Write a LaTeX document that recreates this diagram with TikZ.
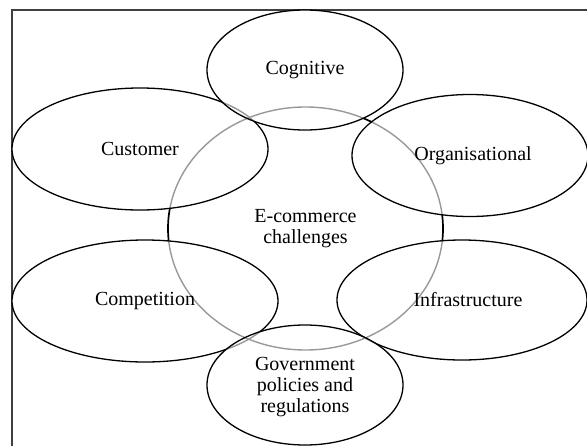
\documentclass[tikz,border=0pt]{standalone}
\usepackage{fontspec}
\setmainfont{Liberation Serif}
\usetikzlibrary{shapes.geometric}
\begin{document}
\begin{tikzpicture}[x=1pt,y=-1pt,
  txt/.style={inner sep=0pt, align=center, font=\fontsize{20}{21}\selectfont},
  rim/.style={draw=black, line width=1.3pt},
  bigrim/.style={draw=black, line width=1.7pt},
  faded/.style={draw=black!40, line width=1.4pt},
  frame/.style={draw=black!75, line width=1.5pt},
  shpcen/.style={insert path={(center.center) ellipse [x radius=137.5pt, y radius=121.5pt]}},
  shpcus/.style={insert path={(customer.center) ellipse [x radius=128pt, y radius=61pt]}},
  shporg/.style={insert path={(organisational.center) ellipse [x radius=118pt, y radius=61pt]}},
  shpcom/.style={insert path={(competition.center) ellipse [x radius=133pt, y radius=61pt]}},
  shpinf/.style={insert path={(infrastructure.center) ellipse [x radius=125pt, y radius=60pt]}},
  shpcog/.style={insert path={(cognitive.center) ellipse [x radius=98pt, y radius=60pt]}},
  shpgov/.style={insert path={(government.center) ellipse [x radius=98pt, y radius=60pt]}}
]
\useasboundingbox (0,0) rectangle (587,445);
\clip (0,0) rectangle (587,445);
% centres of the bubbles
\coordinate (center) at (305.5,228.5);
\coordinate (customer) at (140,149);
\coordinate (organisational) at (470,155.5);
\coordinate (competition) at (145,301);
\coordinate (infrastructure) at (462,300);
\coordinate (cognitive) at (305,70);
\coordinate (government) at (305,385);
\draw[frame] (12,470) -- (12,10) -- (600,10);
% central bubble
\fill[white, shpcen];
\draw[bigrim, shpcen];
% customer
\fill[white, shpcus];
\begin{scope}\clip[shpcus]; \draw[faded, shpcen];\end{scope}
\draw[rim, shpcus];
% organisational
\fill[white, shporg];
\begin{scope}\clip[shporg]; \draw[faded, shpcen];\end{scope}
\draw[rim, shporg];
% competition
\fill[white, shpcom];
\begin{scope}\clip[shpcom]; \draw[faded, shpcen];\end{scope}
\draw[rim, shpcom];
% infrastructure
\fill[white, shpinf];
\begin{scope}\clip[shpinf]; \draw[faded, shpcen];\end{scope}
\draw[rim, shpinf];
% cognitive
\fill[white, shpcog];
\begin{scope}\clip[shpcog]; \draw[faded, shpcen]; \draw[faded, shpcus]; \draw[faded, shporg];\end{scope}
\draw[rim, shpcog];
% government
\fill[white, shpgov];
\begin{scope}\clip[shpgov]; \draw[faded, shpcen]; \draw[faded, shpcom]; \draw[faded, shpinf];\end{scope}
\draw[rim, shpgov];
% labels
\node[txt] (tcen) at (center) {E-commerce\\challenges};
\node[txt] (tcus) at (customer) {Customer};
\node[txt] (torg) at ([xshift=3pt]organisational) {Organisational};
\node[txt] (tcom) at (competition) {Competition};
\node[txt] (tinf) at ([xshift=6pt]infrastructure) {Infrastructure};
\node[txt] (tcog) at (cognitive) {Cognitive};
\node[txt] (tgov) at ([yshift=-2pt]government) {Government\\policies and\\regulations};
\end{tikzpicture}
\end{document}
